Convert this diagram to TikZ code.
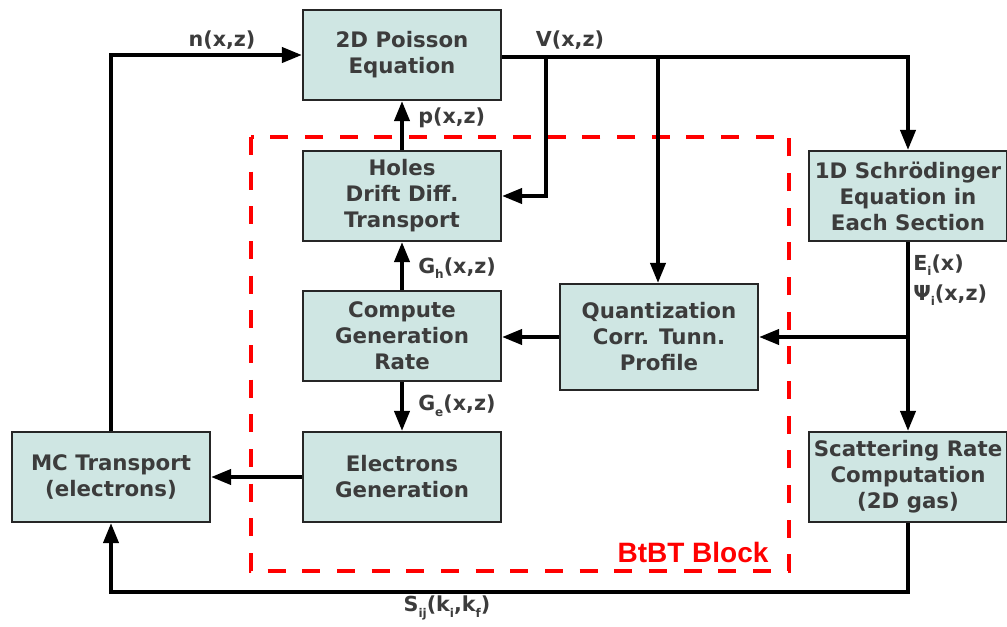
\documentclass[tikz,border=0pt]{standalone}
\usepackage{fontspec}
\setmainfont{DejaVu Sans}
\newfontfamily\tagfont{Liberation Sans}
\usepackage{tikz}
\usetikzlibrary{arrows.meta,positioning}
\usepackage{xcolor}
\definecolor{boxfill}{HTML}{CFE6E3}
\definecolor{txtgray}{HTML}{3C3C3C}
\newcommand{\lowsub}[1]{\raisebox{-0.5ex}{\fontsize{9}{10}\selectfont #1}}

\begin{document}
\begin{tikzpicture}[x=0.75pt,y=-0.75pt,
  blk/.style={draw=black!85, line width=1.3pt, fill=boxfill, text=txtgray,
    minimum width=149pt, minimum height=68pt, inner sep=0pt, align=center,
    font=\fontsize{16}{19.5}\selectfont\bfseries},
  lbl/.style={text=txtgray, inner sep=0pt, font=\fontsize{15.5}{18}\selectfont\bfseries},
  arr/.style={line width=2.5pt, -{Triangle[length=15pt,width=11.5pt]}}]
  \useasboundingbox (0,0) rectangle (1007,626);
  % BtBT block frame
  \draw[red, line width=3pt, dash pattern=on 13.5pt off 12.5pt] (251,137) rectangle (789,571);
  \node[red, inner sep=0pt, font=\tagfont\fontsize{21}{24}\selectfont\bfseries] (btbt) at (693,552) {BtBT Block};
  % blocks
  \node[blk] (poisson) at (402,55) {2D Poisson\\Equation};
  \node[blk] (holes) at (402,196) {Holes\\Drift Diff.\\Transport};
  \node[blk] (comp) at (402,336) {Compute\\Generation\\Rate};
  \node[blk] (elec) at (402,477) {Electrons\\Generation};
  \node[blk] (mc) at (111,477) {MC Transport\\(electrons)};
  \node[blk, minimum height=80pt] (quant) at (659,337) {Quantization\\Corr. Tunn.\\Profile};
  \node[blk] (schr) at (908,196) {1D Schr\"odinger\\Equation in\\Each Section};
  \node[blk] (scat) at (908,477) {Scattering Rate\\Computation\\(2D gas)};
  % helper points
  \coordinate (vb1) at (546,57);
  \coordinate (vb2) at (658,57);
  \coordinate (sbot) at (0,592);
  % connectors
  \draw[arr] (mc.north) |- (poisson.west);
  \draw[arr] (poisson.east |- vb1) -| (schr.north);
  \draw[arr] (vb1) |- (holes.east);
  \draw[arr] (vb2) -- (vb2 |- quant.north);
  \draw[arr] (holes.north) -- (poisson.south);
  \draw[arr] (comp.north) -- (holes.south);
  \draw[arr] (comp.south) -- (elec.north);
  \draw[arr] (elec.west) -- (mc.east);
  \draw[arr] (quant.west) -- (comp.east |- quant.west);
  \draw[arr] (schr.south) -- (scat.north);
  \draw[arr] (schr.south |- quant.east) -- (quant.east);
  \draw[arr] (scat.south) -- (scat.south |- sbot) -| (mc.south);
  % labels
  \node[lbl] (nlab) at (222,40) {n(x,z)};
  \node[lbl] (vlab) at (570,40) {V(x,z)};
  \node[lbl, anchor=west] (plab) at (418,118) {p(x,z)};
  \node[lbl, anchor=west] (ghlab) at (418,268) {G\lowsub{h}(x,z)};
  \node[lbl, anchor=west] (gelab) at (418,406) {G\lowsub{e}(x,z)};
  \node[lbl, anchor=west] (elab) at (913,265) {E\lowsub{i}(x)};
  \node[lbl, anchor=west] (psilab) at (913,295) {Ψ\lowsub{i}(x,z)};
  \node[lbl] (slab) at (447,608) {S\lowsub{ij}(k\lowsub{i},k\lowsub{f})};
\end{tikzpicture}
\end{document}
